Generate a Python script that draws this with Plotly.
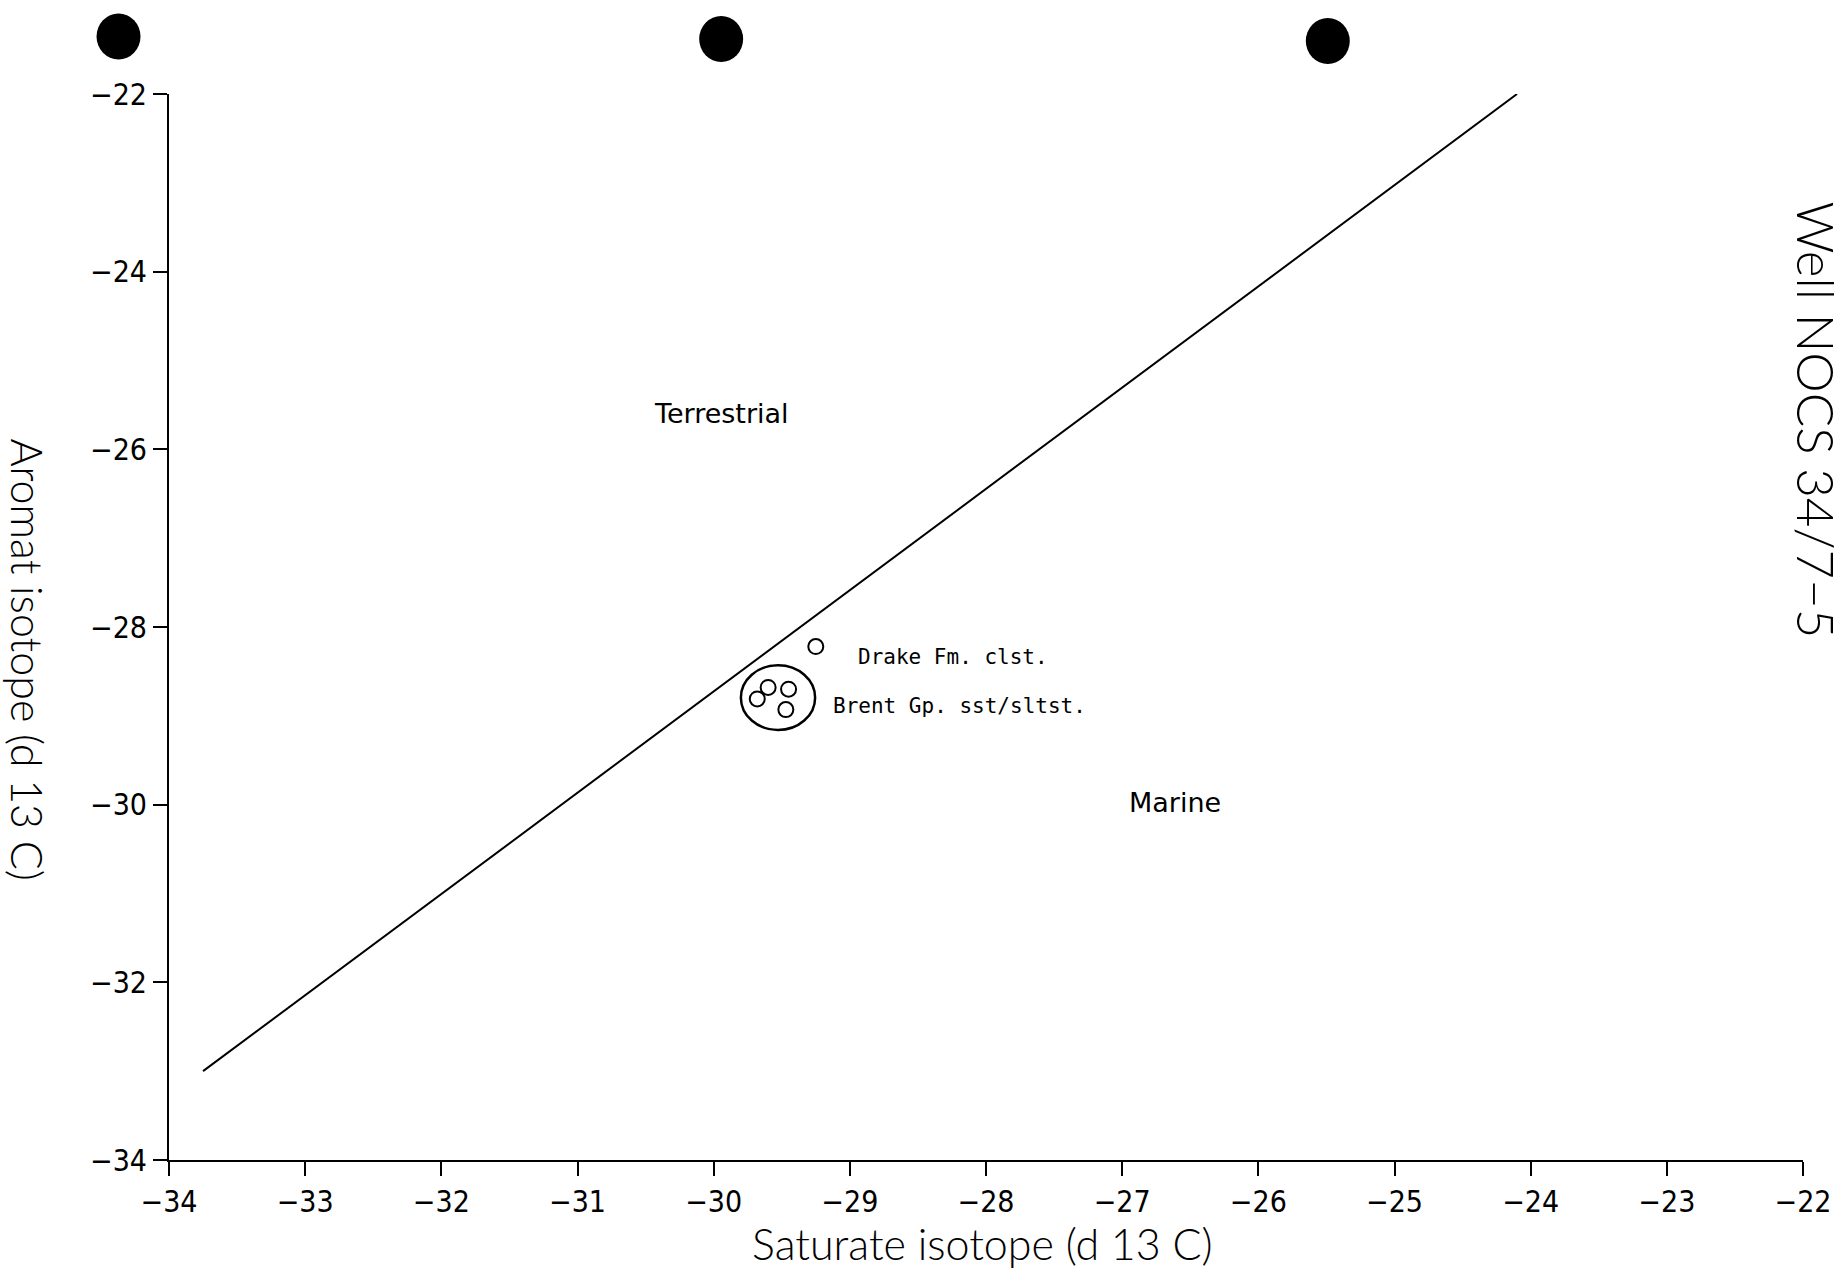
import plotly.graph_objects as go

# Source-rock classification line (saturate vs aromatic d13C)
line_sat = [-33.75, -24.1]
line_aro = [-33.0, -22.0]

# Samples
drake_sat = [-29.25]
drake_aro = [-28.22]
brent_sat = [-29.68, -29.60, -29.45, -29.47]
brent_aro = [-28.81, -28.68, -28.70, -28.93]

# Binder punch holes along the top edge of the sheet (page pixels)
hole_px = [118, 721, 1328]
hole_py = [36.5, 39, 41]

x_ticks = list(range(-34, -21, 1))
y_ticks = list(range(-34, -21, 2))

title_font = dict(family="Lato, Open Sans, sans-serif", size=43, color="black", weight=300)
tick_font = dict(family="Liberation Sans Narrow, DejaVu Sans Condensed, sans-serif", size=30, color="black")
label_font = dict(family="DejaVu Sans, sans-serif", size=27, color="black")
mono_font = dict(family="DejaVu Sans Mono, Liberation Mono, monospace", size=21, color="black")

W, H = 1847, 1279
L, R, T, B = 168.5, 43.5, 94, 119
pw, ph = W - L - R, H - T - B


def px_to_paper(x, y):
    return (x - L) / pw, (H - B - y) / ph


fig = go.Figure()

fig.add_trace(go.Scatter(
    x=line_sat, y=line_aro, mode="lines",
    line=dict(color="black", width=2), showlegend=False, hoverinfo="skip",
))
fig.add_trace(go.Scatter(
    x=drake_sat, y=drake_aro, mode="markers",
    marker=dict(symbol="circle-open", size=15, color="black", line=dict(width=2)),
    showlegend=False,
))
fig.add_trace(go.Scatter(
    x=brent_sat, y=brent_aro, mode="markers",
    marker=dict(symbol="circle-open", size=15, color="black", line=dict(width=2)),
    showlegend=False,
))

# Envelope around the Brent group samples
fig.add_shape(type="circle", xref="x", yref="y",
              x0=-29.80, x1=-29.255, y0=-29.16, y1=-28.43,
              line=dict(color="black", width=2.5))

# Punch holes
for hx, hy in zip(hole_px, hole_py):
    x0, y0 = px_to_paper(hx - 22, hy + 23)
    x1, y1 = px_to_paper(hx + 22, hy - 23)
    fig.add_shape(type="circle", xref="paper", yref="paper",
                  x0=x0, x1=x1, y0=y0, y1=y1,
                  fillcolor="black", line=dict(color="black", width=0))

annotations = [
    dict(text="Terrestrial", x=-29.945, y=-25.60, xref="x", yref="y",
         showarrow=False, font=label_font, xanchor="center", yanchor="middle"),
    dict(text="Marine", x=-26.61, y=-29.98, xref="x", yref="y",
         showarrow=False, font=label_font, xanchor="center", yanchor="middle"),
    dict(text="Drake Fm. clst.", x=-28.954, y=-28.333, xref="x", yref="y",
         showarrow=False, font=mono_font, xanchor="left", yanchor="middle"),
    dict(text="Brent Gp. sst/sltst.", x=-29.14, y=-28.887, xref="x", yref="y",
         showarrow=False, font=mono_font, xanchor="left", yanchor="middle"),
]

# Outer labels, placed by page pixels
outer = [
    dict(text="Aromat isotope (d 13 C)", textangle=90, px=27, py=659, font=title_font),
    dict(text="Saturate isotope (d 13 C)", textangle=0, px=982, py=1243, font=title_font),
    dict(text="Well NOCS 34/7\u22125", textangle=90, px=1817, py=420,
         font=dict(family="Lato, Open Sans, sans-serif", size=51, color="black", weight=300)),
]
for o in outer:
    ax, ay = px_to_paper(o["px"], o["py"])
    annotations.append(dict(text=o["text"], textangle=o["textangle"], x=ax, y=ay,
                            xref="paper", yref="paper", showarrow=False, font=o["font"],
                            xanchor="center", yanchor="middle"))

fig.update_layout(
    width=W, height=H,
    margin=dict(l=L, r=R, t=T, b=B, pad=0),
    paper_bgcolor="white", plot_bgcolor="white",
    annotations=annotations,
    xaxis=dict(
        range=[-34, -22], tickvals=x_ticks, ticks="outside", ticklen=14, tickwidth=2,
        tickcolor="black", showline=True, linecolor="black", linewidth=2,
        showgrid=False, zeroline=False, tickfont=tick_font, mirror=False,
    ),
    yaxis=dict(
        range=[-34, -22], tickvals=y_ticks, ticks="outside", ticklen=14, tickwidth=2,
        tickcolor="black", showline=True, linecolor="black", linewidth=2,
        showgrid=False, zeroline=False, tickfont=tick_font,
    ),
)

fig.write_html("out.html")
